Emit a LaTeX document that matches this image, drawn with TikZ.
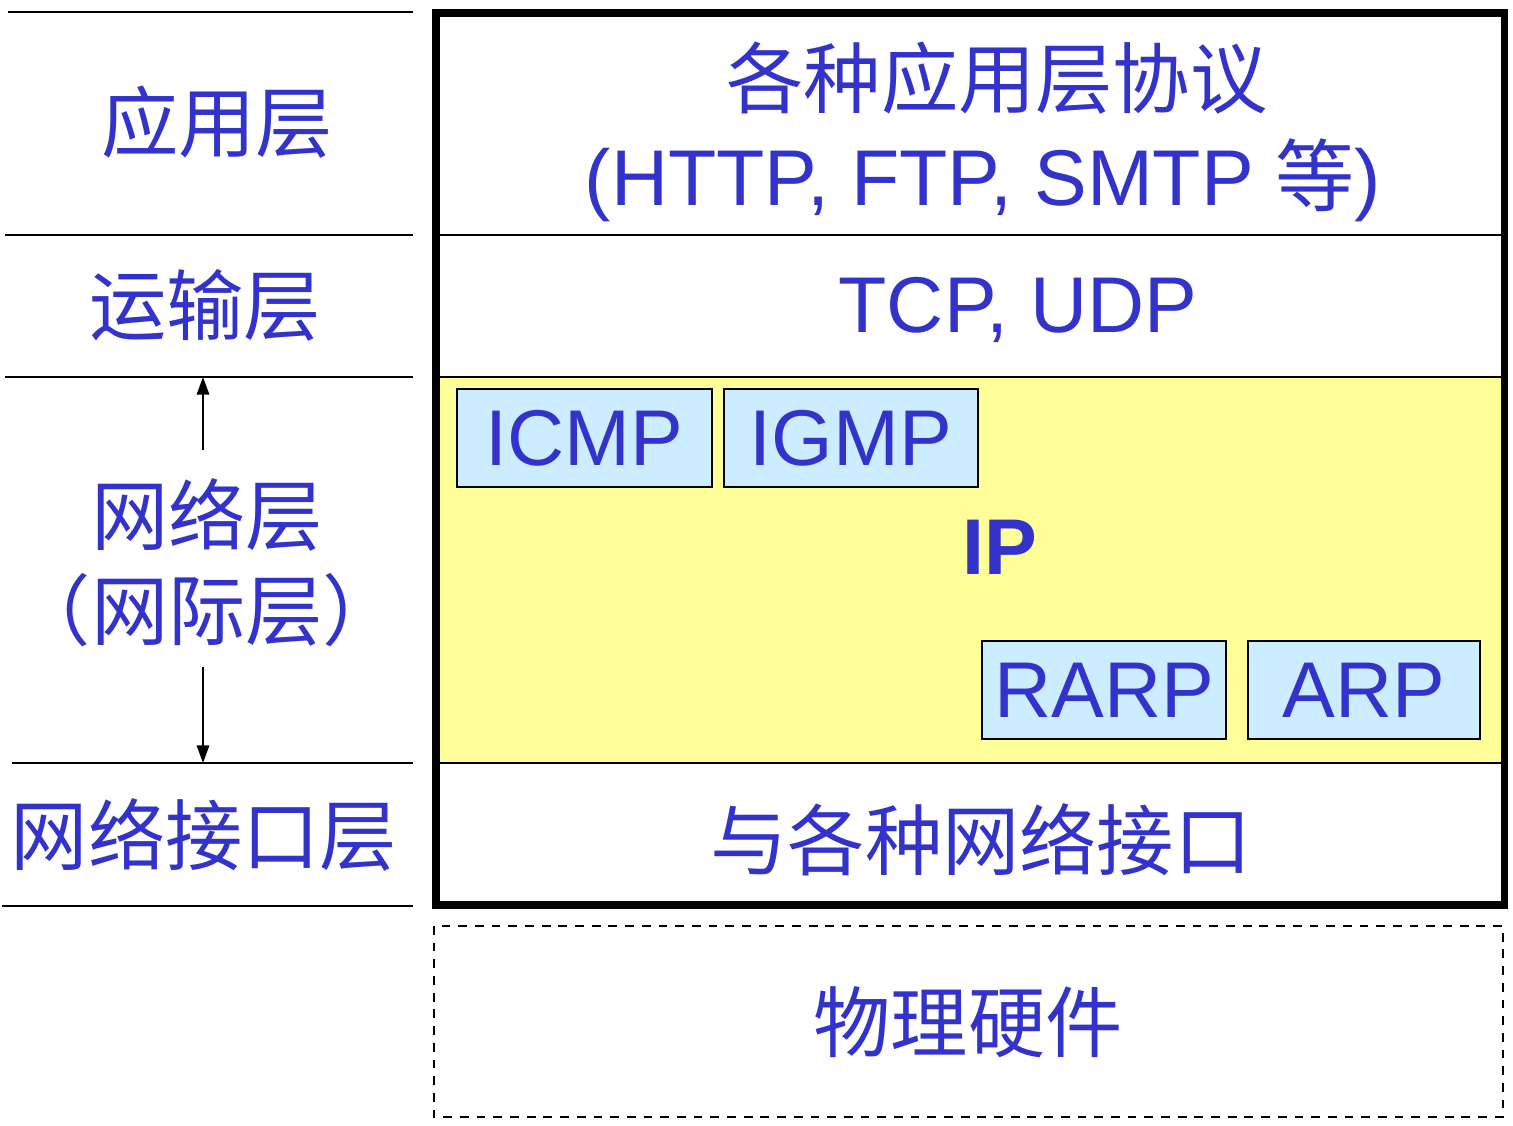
\documentclass[tikz,border=0pt]{standalone}
\usepackage{fontspec}
\setmainfont{Liberation Sans}
\newfontfamily\cjk{Noto Sans CJK SC}
\usepackage{xcolor}
\usetikzlibrary{arrows.meta, positioning}
\definecolor{txtblue}{HTML}{3333CC}
\definecolor{ipyellow}{HTML}{FFFF99}
\definecolor{boxblue}{HTML}{CCECFF}

\begin{document}
\begin{tikzpicture}[x=0.02cm, y=-0.02cm,
    lbl/.style={text=txtblue, inner sep=0pt, font=\cjk\fontsize{44}{52}\selectfont},
    lat/.style={text=txtblue, inner sep=0pt, font=\fontsize{45}{52}\selectfont},
    proto/.style={draw=black, line width=1.2pt, fill=boxblue, text=txtblue,
        font=\fontsize{45}{52}\selectfont, minimum height=1.96cm}]
    \useasboundingbox (0,0) rectangle (1513,1125);

    % 左侧分隔线
    \draw[line width=1.6pt] (8,12) -- (413,12);
    \draw[line width=1.6pt] (5,235) -- (413,235);
    \draw[line width=1.6pt] (5,377) -- (413,377);
    \draw[line width=1.6pt] (12,763) -- (413,763);
    \draw[line width=1.6pt] (2,906) -- (413,906);

    % 左侧层名
    \node[lbl] (app) at (217,122) {应用层};
    \node[lbl] (trans) at (205,305) {运输层};
    \node[lbl] (net) at (207,515) {网络层};
    \node[lbl] (inet) at (207,610) {（网际层）};
    \node[lbl] (link) at (204,835) {网络接口层};

    % 网络层的范围
    \coordinate (uptail) at (203,450);
    \coordinate (uphead) at (203,377);
    \coordinate (dntail) at (203,667);
    \coordinate (dnhead) at (203,763);
    \draw[line width=1.2pt, -{Triangle[length=10pt, width=7pt]}] (uptail) -- (uphead);
    \draw[line width=1.2pt, -{Triangle[length=10pt, width=7pt]}] (dntail) -- (dnhead);

    % 网络层底色
    \fill[ipyellow] (436,377) rectangle (1504,763);

    % 各层之间的线
    \draw[line width=1.2pt] (436,235) -- (1504,235);
    \draw[line width=1.2pt] (436,377) -- (1504,377);
    \draw[line width=1.2pt] (436,763) -- (1504,763);

    % 外框
    \draw[line width=4pt] (436,13) rectangle (1504,905);

    % 右侧各层协议
    \node[lbl] (appa) at (997,78) {各种应用层协议};
    \node[lat] (appb) at (983,180) {(HTTP, FTP, SMTP {\cjk 等})};
    \node[lat] (tcp) at (1018,310) {TCP, UDP};
    \node[lat, font=\bfseries\fontsize{45}{52}\selectfont] (ip) at (1000,547) {IP};
    \node[lbl] (iface) at (981,840) {与各种网络接口};

    % 小框
    \node[proto, minimum width=5.1cm] (icmp) at (584.5,438) {ICMP};
    \node[proto, minimum width=5.08cm] (igmp) at (851,438) {IGMP};
    \node[proto, minimum width=4.88cm] (rarp) at (1104,690) {RARP};
    \node[proto, minimum width=4.64cm] (arp) at (1364,690) {ARP};

    % 物理硬件
    \draw[line width=1.2pt, dash pattern=on 5pt off 4.5pt] (434,926) rectangle (1503,1117);
    \node[lbl] (hw) at (968,1022) {物理硬件};
\end{tikzpicture}
\end{document}
